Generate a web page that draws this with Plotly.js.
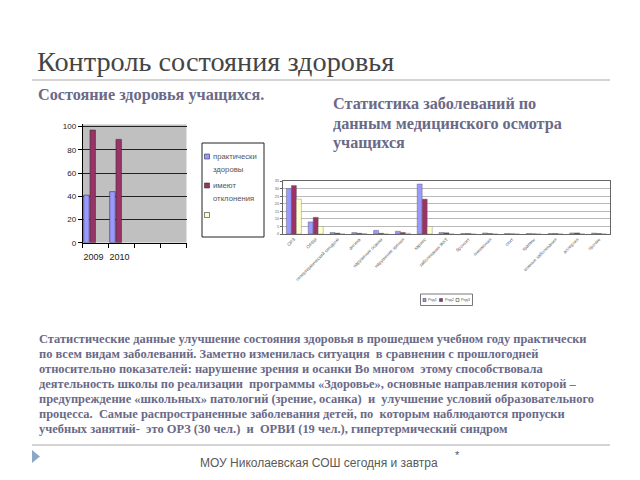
<!DOCTYPE html>
<html><head><meta charset="utf-8">
<script src="https://cdn.plot.ly/plotly-3.0.1.min.js"></script>
<style>html,body{margin:0;padding:0;background:#fff}#chart{width:640px;height:480px}</style>
</head><body><div id="chart"></div>
<script>
// ---- Chart 1: health state ----
const years = ["2009", "2010"];
const healthNames = ["практически здоровы", "имеют отклонения", ""];
const healthy = [41, 44];
const deviations = [97, 89];
const thirdSeries = [0, 0];
const healthTicks = [0, 20, 40, 60, 80, 100];

// ---- Chart 2: disease statistics ----
const diseases = ["ОРЗ", "ОРВИ", "гипертермический синдром", "ангина", "нарушение осанки",
  "нарушение зрения", "кариес", "заболевания ЖКТ", "бронхит", "пневмония", "отит",
  "травмы", "кожные заболевания", "аллергия", "прочие"];
const seriesNames = ["Ряд1", "Ряд2", "Ряд3"];
const ser1 = [30, 8, 1, 1, 2.4, 1.8, 33, 1, 0.3, 0.7, 0.3, 0.3, 0.3, 0.7, 0.6];
const ser2 = [32, 11, 0.6, 0.5, 0.5, 1, 23, 0.8, 0.3, 0.3, 0.1, 0.1, 0.3, 0.7, 0.3];
const ser3 = [23, 5, 0, 0.3, 0, 0.5, 5, 0, 0, 0, 0, 0, 0, 0, 0];
const diseaseTicks = [0, 5, 10, 15, 20, 25, 30, 35];

// ---- Slide texts ----
const slideTitle = "Контроль состояния здоровья";
const subTitle1 = "Состояние здоровья учащихся.";
const subTitle2 = ["Статистика заболеваний по", "данным медицинского осмотра", "учащихся"];
const bodyLines = [
  "Статистические данные улучшение состояния здоровья в прошедшем учебном году практически",
  "по всем видам заболеваний. Заметно изменилась ситуация  в сравнении с прошлогодней",
  "относительно показателей: нарушение зрения и осанки Во многом  этому способствовала",
  "деятельность школы по реализации  программы «Здоровье», основные направления которой –",
  "предупреждение «школьных» патологий (зрение, осанка)  и  улучшение условий образовательного",
  "процесса.  Самые распространенные заболевания детей, по  которым наблюдаются пропуски",
  "учебных занятий-  это ОРЗ (30 чел.)  и  ОРВИ (19 чел.), гипертермический синдром"
];
const footer = "МОУ Николаевская СОШ сегодня и завтра";

const BLUE = "#9999ff", MAROON = "#993366", YELLOW = "#ffffcc";
const colors = [BLUE, MAROON, YELLOW];
const px = x => x / 640, py = y => 1 - y / 480;

const data = [
  {type: "bar", x: years.map((_, i) => i), y: healthy, name: healthNames[0], xaxis: "x", yaxis: "y",
   offset: 0.04, width: 0.21, marker: {color: BLUE, line: {color: "#333", width: 0.6}}, showlegend: false},
  {type: "bar", x: years.map((_, i) => i), y: deviations, name: healthNames[1], xaxis: "x", yaxis: "y",
   offset: 0.28, width: 0.21, marker: {color: MAROON, line: {color: "#333", width: 0.6}}, showlegend: false},
  {type: "bar", x: years.map((_, i) => i), y: thirdSeries, name: healthNames[2], xaxis: "x", yaxis: "y",
   offset: 0.52, width: 0.21, marker: {color: YELLOW}, showlegend: false},
  {type: "bar", x: diseases, y: ser1, name: seriesNames[0], xaxis: "x2", yaxis: "y2",
   marker: {color: BLUE, line: {color: "#555", width: 0.4}}, showlegend: false},
  {type: "bar", x: diseases, y: ser2, name: seriesNames[1], xaxis: "x2", yaxis: "y2",
   marker: {color: MAROON, line: {color: "#555", width: 0.4}}, showlegend: false},
  {type: "bar", x: diseases, y: ser3, name: seriesNames[2], xaxis: "x2", yaxis: "y2",
   marker: {color: YELLOW, line: {color: "#777", width: 0.4}}, showlegend: false}
];

const serif = "Liberation Serif, Times New Roman, serif";
const sans = "Liberation Sans, Arial, sans-serif";
const textCol = "#6a6a88";

const annotations = [];
const shapes = [];
function addText(text, x, y, size, opts) {
  annotations.push(Object.assign({text: text, x: px(x), y: py(y), xref: "paper", yref: "paper",
    xanchor: "left", yanchor: "middle", showarrow: false, borderpad: 0,
    font: {family: serif, size: size, color: textCol}}, opts || {}));
}
addText(slideTitle, 36, 62, 28.3, {font: {family: serif, size: 28.3, color: "#454545"}});
addText("<b>" + subTitle1 + "</b>", 37, 95, 16.2);
subTitle2.forEach((t, i) => addText("<b>" + t + "</b>", 332, 104 + i * 19.5, 16.2));
bodyLines.forEach((t, i) => addText("<b>" + t + "</b>", 38, 339 + i * 15, 12.45));
addText(footer, 199, 463, 12, {font: {family: sans, size: 12, color: "#595959"}});
addText("*", 454, 455, 11, {font: {family: sans, size: 11, color: "#595959"}});

// slide lines and marker
shapes.push({type: "line", xref: "paper", yref: "paper", x0: px(32), x1: px(610), y0: py(80), y1: py(80), line: {color: "#d4d4d4", width: 2}});
shapes.push({type: "line", xref: "paper", yref: "paper", x0: px(32), x1: px(610), y0: py(445), y1: py(445), line: {color: "#d4d4d4", width: 2}});
shapes.push({type: "path", xref: "paper", yref: "paper", fillcolor: "#8ea7c6", line: {width: 0},
  path: `M${px(32)},${py(450)} L${px(40)},${py(456.5)} L${px(32)},${py(463)} Z`});

// chart 1 gray wall
shapes.push({type: "rect", xref: "x", yref: "y", x0: 0, x1: 4, y0: 0, y1: 102, layer: "below",
  fillcolor: "#c0c0c0", line: {width: 0}});

// chart 1 legend
shapes.push({type: "rect", xref: "paper", yref: "paper", x0: px(202), x1: px(264), y0: py(143), y1: py(237),
  fillcolor: "#fff", line: {color: "#222", width: 1}});
const leg1Y = [156.5, 185.5, 215];
healthNames.forEach((n, i) => {
  shapes.push({type: "rect", xref: "paper", yref: "paper", x0: px(204.5), x1: px(209.5),
    y0: py(leg1Y[i] - 2.5), y1: py(leg1Y[i] + 2.5), fillcolor: colors[i], line: {color: "#333", width: 0.6}});
  const parts = n.split(" ");
  parts.forEach((p, j) => annotations.push({text: p, x: px(212), y: py(leg1Y[i] + j * 12.5), xref: "paper", yref: "paper",
    xanchor: "left", yanchor: "middle", showarrow: false, borderpad: 0, font: {family: sans, size: 7.7, color: "#555"}}));
});

// chart 2 legend
shapes.push({type: "rect", xref: "paper", yref: "paper", x0: px(420.5), x1: px(472.5), y0: py(294), y1: py(305.5),
  fillcolor: "#fff", line: {color: "#555", width: 0.8}});
seriesNames.forEach((n, i) => {
  const lx = 423 + i * 16.5;
  shapes.push({type: "rect", xref: "paper", yref: "paper", x0: px(lx), x1: px(lx + 3), y0: py(298.5), y1: py(301.5),
    fillcolor: colors[i], line: {color: "#333", width: 0.5}});
  annotations.push({text: n, x: px(lx + 4), y: py(300), xref: "paper", yref: "paper", xanchor: "left", yanchor: "middle",
    showarrow: false, borderpad: 0, font: {family: sans, size: 3.8, color: "#555"}});
});

const layout = {
  width: 640, height: 480,
  margin: {l: 0, r: 0, t: 0, b: 0},
  paper_bgcolor: "#fff", plot_bgcolor: "rgba(0,0,0,0)",
  showlegend: false,
  barmode: "group", bargap: 0.31, bargroupgap: 0,
  xaxis: {domain: [px(82.7), px(186.7)], range: [0, 4], tickmode: "array",
    tickvals: years.map((_, i) => i + 0.42), ticktext: years, ticks: "", ticklabelstandoff: 5,
    showgrid: false, zeroline: false,
    showline: true, linecolor: "#000", linewidth: 1,
    minor: {tickmode: "linear", tick0: 0, dtick: 1, ticks: "outside", ticklen: 4, tickcolor: "#000", showgrid: false},
    tickfont: {family: sans, size: 9, color: "#222"}, fixedrange: true},
  yaxis: {domain: [py(242.7), py(124.3)], range: [0, 102], tickmode: "array", tickvals: healthTicks,
    ticks: "outside", ticklen: 4, tickcolor: "#000", showgrid: true, gridcolor: "#222", gridwidth: 1,
    zeroline: false, showline: true, linecolor: "#000", linewidth: 1,
    tickfont: {family: sans, size: 8, color: "#222"}, fixedrange: true},
  xaxis2: {domain: [px(283), px(610)], anchor: "y2", type: "category", tickangle: -45, ticks: "",
    showgrid: false, showline: true, linecolor: "#666", linewidth: 1, mirror: true,
    tickfont: {family: sans, size: 4.6, color: "#666"}, fixedrange: true},
  yaxis2: {domain: [py(234), py(181)], anchor: "x2", range: [0, 35], tickmode: "array", tickvals: diseaseTicks,
    ticks: "outside", ticklen: 2, tickcolor: "#666", showgrid: true, gridcolor: "#8a8a8a", gridwidth: 0.6,
    zeroline: false, showline: true, linecolor: "#666", linewidth: 1, mirror: true,
    tickfont: {family: sans, size: 4, color: "#666"}, fixedrange: true},
  annotations: annotations,
  shapes: shapes
};

Plotly.newPlot("chart", data, layout, {displayModeBar: false, staticPlot: true});
</script>
</body></html>
